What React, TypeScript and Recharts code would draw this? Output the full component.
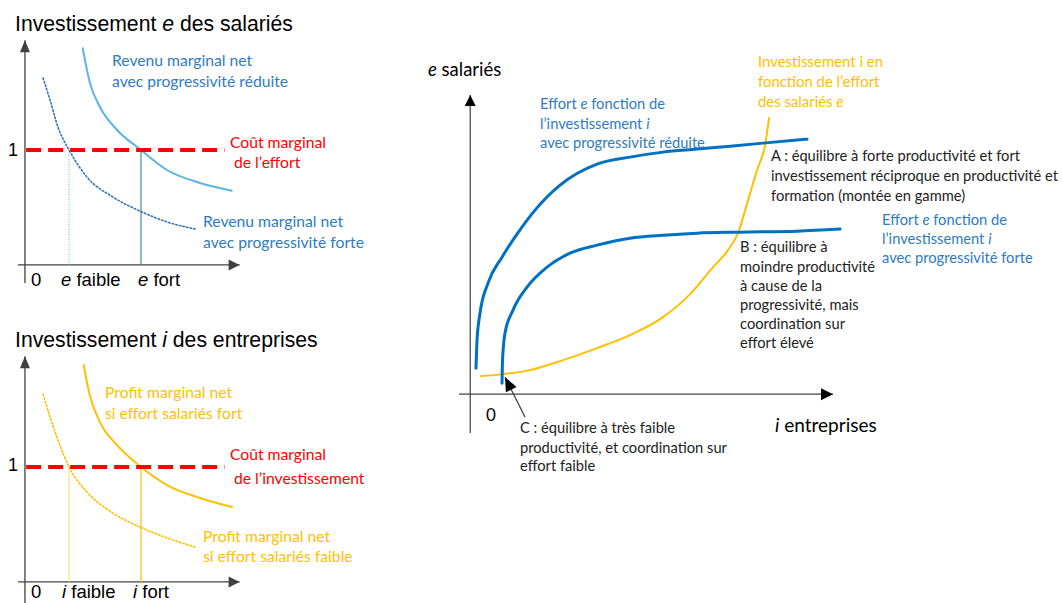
import React from 'react';
import { LineChart, Line, XAxis, YAxis, ReferenceLine, ReferenceDot } from 'recharts';

// ---- panneau haut gauche : effort e des salariés (1 = coût marginal)
const revenuReduite = [
    { x: 2.49, y: 1.884 }, { x: 2.8, y: 1.583 }, { x: 3.23, y: 1.374 }, { x: 3.97, y: 1.174 },
    { x: 5.0, y: 1.0 }, { x: 6.12, y: 0.826 }, { x: 7.54, y: 0.713 }, { x: 8.91, y: 0.646 },
];
const revenuForte = [
    { x: 0.78, y: 1.626 }, { x: 1.08, y: 1.435 }, { x: 1.42, y: 1.2 }, { x: 1.9, y: 1.0 },
    { x: 2.67, y: 0.765 }, { x: 3.79, y: 0.591 }, { x: 5.04, y: 0.461 }, { x: 6.12, y: 0.374 }, { x: 7.33, y: 0.313 },
];
const eFaible = 1.9;
const eFort = 5.0;

// ---- panneau bas gauche : investissement i des entreprises
const profitFort = [
    { x: 2.53, y: 1.887 }, { x: 2.8, y: 1.62 }, { x: 3.23, y: 1.39 }, { x: 3.97, y: 1.19 },
    { x: 5.0, y: 1.0 }, { x: 6.12, y: 0.843 }, { x: 7.54, y: 0.73 }, { x: 8.92, y: 0.652 },
];
const profitFaible = [
    { x: 0.78, y: 1.635 }, { x: 1.08, y: 1.435 }, { x: 1.42, y: 1.235 }, { x: 1.9, y: 1.0 },
    { x: 2.67, y: 0.783 }, { x: 3.79, y: 0.6 }, { x: 5.04, y: 0.47 }, { x: 6.12, y: 0.383 }, { x: 7.33, y: 0.304 },
];
const iFaible = 1.9;
const iFort = 5.0;
const coutMarginal = 1;

// ---- panneau droit : e salariés en fonction de i entreprises
const effortProgReduite = [
    { x: 0.155, y: 0.769 }, { x: 0.182, y: 1.598 }, { x: 0.262, y: 2.396 }, { x: 0.476, y: 3.284 },
    { x: 0.85, y: 4.053 }, { x: 1.251, y: 4.734 }, { x: 1.733, y: 5.444 }, { x: 2.401, y: 6.183 },
    { x: 3.39, y: 6.805 }, { x: 4.273, y: 7.012 }, { x: 5.155, y: 7.16 }, { x: 6.064, y: 7.249 },
    { x: 6.947, y: 7.337 }, { x: 7.829, y: 7.426 }, { x: 9.005, y: 7.544 },
];
const effortProgForte = [
    { x: 0.85, y: 0.325 }, { x: 0.864, y: 1.006 }, { x: 0.93, y: 1.805 }, { x: 1.144, y: 2.485 },
    { x: 1.519, y: 3.166 }, { x: 2.054, y: 3.757 }, { x: 2.668, y: 4.172 }, { x: 3.39, y: 4.408 },
    { x: 4.273, y: 4.615 }, { x: 5.155, y: 4.704 }, { x: 6.064, y: 4.763 }, { x: 7.214, y: 4.793 },
    { x: 8.738, y: 4.822 }, { x: 9.888, y: 4.882 },
];
const investissementI = [
    { x: 0.289, y: 0.533 }, { x: 0.877, y: 0.592 }, { x: 1.599, y: 0.71 }, { x: 2.481, y: 1.006 },
    { x: 3.39, y: 1.361 }, { x: 4.273, y: 1.746 }, { x: 5.155, y: 2.278 }, { x: 5.877, y: 2.959 },
    { x: 6.492, y: 3.757 }, { x: 6.893, y: 4.26 }, { x: 7.16, y: 4.763 }, { x: 7.428, y: 5.74 },
    { x: 7.668, y: 6.627 }, { x: 7.882, y: 7.367 }, { x: 7.989, y: 8.166 },
];
const flecheC = [{ x: 1.465, y: -0.68 }, { x: 0.93, y: 0.503 }];

const AXIS = '#404040';
const BLUE_TXT = '#2e7bc2';
const ORANGE = '#ffc000';
const RED = '#ff0000';
const CAL = 'Lato, "Open Sans", sans-serif';
const ARIAL = '"Liberation Sans", Arial, sans-serif';

// triangle dont la pointe est en (cx, cy), orienté selon angle (degrés, repère écran)
const arrowHead = (angle: number, len: number, half: number, fill = AXIS) => (props: any) => {
    const { cx, cy } = props;
    const a = (angle * Math.PI) / 180;
    const bx = cx - len * Math.cos(a);
    const by = cy - len * Math.sin(a);
    const px = -Math.sin(a) * half;
    const py = Math.cos(a) * half;
    return <polygon points={`${cx},${cy} ${bx + px},${by + py} ${bx - px},${by - py}`} fill={fill} />;
};

const line = (data: any[], stroke: string, width: number, dash?: string) => (
    <Line
        data={data}
        dataKey="y"
        type="monotone"
        stroke={stroke}
        strokeWidth={width}
        strokeDasharray={dash}
        strokeLinecap="round"
        dot={false}
        activeDot={false}
        isAnimationActive={false}
    />
);

function LeftPanel({ top, yDomain, solid, dotted, solidColor, dottedColor, lowX, highX, lowColor, highColor, lowDash }: any) {
    const [y0, y1] = yDomain;
    return (
        <div style={{ position: 'absolute', left: 18, top }}>
            <LineChart width={223} height={Math.round((y1 - y0) * 115)} margin={{ top: 0, right: 0, bottom: 0, left: 0 }}>
                <XAxis type="number" dataKey="x" domain={[-0.3, 9.31]} hide allowDataOverflow />
                <YAxis type="number" domain={yDomain} hide allowDataOverflow />
                <ReferenceLine segment={[{ x: 0, y: y0 }, { x: 0, y: y1 - 0.02 }]} stroke={AXIS} strokeWidth={1.3} ifOverflow="visible" />
                <ReferenceLine segment={[{ x: -0.3, y: 0 }, { x: 9.25, y: 0 }]} stroke={AXIS} strokeWidth={1.3} ifOverflow="visible" />
                <ReferenceDot x={0} y={y1 - 0.02} ifOverflow="visible" shape={arrowHead(-90, 12, 5)} />
                <ReferenceDot x={9.25} y={0} ifOverflow="visible" shape={arrowHead(0, 11, 5.5)} />
                <ReferenceLine segment={[{ x: lowX, y: 0 }, { x: lowX, y: coutMarginal }]} stroke={lowColor} strokeWidth={1} strokeDasharray={lowDash} ifOverflow="visible" />
                <ReferenceLine segment={[{ x: highX, y: 0 }, { x: highX, y: coutMarginal }]} stroke={highColor} strokeWidth={1.2} ifOverflow="visible" />
                {line(dotted, dottedColor, 1.6, '1.5 2.2')}
                {line(solid, solidColor, 2)}
                <ReferenceLine segment={[{ x: 0.05, y: coutMarginal }, { x: 8.6, y: coutMarginal }]} stroke={RED} strokeWidth={4} strokeDasharray="15 7" ifOverflow="visible" />
            </LineChart>
        </div>
    );
}

function RightPanel() {
    return (
        <div style={{ position: 'absolute', left: 459, top: 95 }}>
            <LineChart width={386} height={338} margin={{ top: 0, right: 0, bottom: 0, left: 0 }}>
                <XAxis type="number" dataKey="x" domain={[-0.3, 10.02]} hide allowDataOverflow />
                <YAxis type="number" domain={[-1.15, 8.85]} hide allowDataOverflow />
                <ReferenceLine segment={[{ x: 0, y: -1.15 }, { x: 0, y: 8.85 }]} stroke={AXIS} strokeWidth={1.2} ifOverflow="visible" />
                <ReferenceLine segment={[{ x: -0.3, y: 0 }, { x: 9.7, y: 0 }]} stroke={AXIS} strokeWidth={1.2} ifOverflow="visible" />
                <ReferenceDot x={0} y={8.85} ifOverflow="visible" shape={arrowHead(-90, 11, 5.5, '#000')} />
                <ReferenceDot x={9.7} y={0} ifOverflow="visible" shape={arrowHead(0, 12, 6, '#000')} />
                {line(investissementI, ORANGE, 2)}
                {line(effortProgForte, '#0070c0', 3)}
                {line(effortProgReduite, '#0070c0', 3)}
                <ReferenceLine segment={flecheC} stroke="#404040" strokeWidth={1.2} ifOverflow="visible" />
                <ReferenceDot x={flecheC[1].x} y={flecheC[1].y} ifOverflow="visible" shape={arrowHead(-116.6, 14, 6, '#000')} />
            </LineChart>
        </div>
    );
}

function Lines({ x, ys, lines, color, size = 15.7, font = CAL }: { x: number; ys: number[]; lines: React.ReactNode[]; color: string; size?: number; font?: string }) {
    return (
        <>
            {lines.map((l, k) => (
                <text key={k} x={x} y={ys[k]} fill={color} fontSize={size} fontFamily={font} style={{ whiteSpace: 'pre' }}>
                    {l}
                </text>
            ))}
        </>
    );
}

const it = (s: string) => <tspan fontStyle="italic">{s}</tspan>;

export default function App() {
    return (
        <div style={{ position: 'absolute', left: 0, top: 0, width: 1062, height: 603, background: '#fff', overflow: 'hidden' }}>
            <LeftPanel
                top={38}
                yDomain={[-0.157, 1.974]}
                solid={revenuReduite}
                dotted={revenuForte}
                solidColor="#5ab4e6"
                dottedColor="#2e75b6"
                lowX={eFaible}
                highX={eFort}
                lowColor="#5ab4e6"
                highColor="#4a88ad"
                lowDash="1 1.5"
            />
            <LeftPanel
                top={354}
                yDomain={[-0.183, 1.983]}
                solid={profitFort}
                dotted={profitFaible}
                solidColor={ORANGE}
                dottedColor={ORANGE}
                lowX={iFaible}
                highX={iFort}
                lowColor="#ffd966"
                highColor={ORANGE}
            />
            <RightPanel />
            <svg width={1062} height={603} style={{ position: 'absolute', left: 0, top: 0, pointerEvents: 'none' }}>
                {/* haut gauche */}
                <Lines x={15} ys={[31]} lines={[<>Investissement {it('e')} des salariés</>]} color="#000" size={21.2} font={ARIAL} />
                <Lines x={8} ys={[156]} lines={['1']} color="#000" size={18} font={ARIAL} />
                <Lines x={31} ys={[286]} lines={['0']} color="#000" size={18.5} font={ARIAL} />
                <Lines x={61} ys={[286]} lines={[<>{it('e')} faible</>]} color="#000" size={18.5} font={ARIAL} />
                <Lines x={138} ys={[286]} lines={[<>{it('e')} fort</>]} color="#000" size={18.5} font={ARIAL} />
                <Lines x={112} ys={[66, 87]} lines={['Revenu marginal net', 'avec progressivité réduite']} color={BLUE_TXT} />
                <Lines x={230} ys={[148, 168]} lines={['Coût marginal', ' de l’effort']} color={RED} />
                <Lines x={203} ys={[227, 248]} lines={['Revenu marginal net', 'avec progressivité forte']} color={BLUE_TXT} />

                {/* bas gauche */}
                <Lines x={15} ys={[347]} lines={[<>Investissement {it('i')} des entreprises</>]} color="#000" size={21.2} font={ARIAL} />
                <Lines x={8} ys={[471]} lines={['1']} color="#000" size={18} font={ARIAL} />
                <Lines x={31} ys={[598]} lines={['0']} color="#000" size={18.5} font={ARIAL} />
                <Lines x={62} ys={[598]} lines={[<>{it('i')} faible</>]} color="#000" size={18.5} font={ARIAL} />
                <Lines x={133} ys={[598]} lines={[<>{it('i')} fort</>]} color="#000" size={18.5} font={ARIAL} />
                <Lines x={105} ys={[398, 419]} lines={['Profit marginal net', 'si effort salariés fort']} color={ORANGE} />
                <Lines x={230} ys={[460, 484]} lines={['Coût marginal', ' de l’investissement']} color={RED} />
                <Lines x={203} ys={[542, 562]} lines={['Profit marginal net', 'si effort salariés faible']} color={ORANGE} />

                {/* droite */}
                <Lines x={428} ys={[76]} lines={[<>{it('e')} salariés</>]} color="#000" size={18.5} />
                <Lines x={486} ys={[421]} lines={['0']} color="#000" size={17} />
                <Lines x={775} ys={[432]} lines={[<>{it('i')} entreprises</>]} color="#000" size={19} />
                <Lines
                    x={540}
                    ys={[109, 128.5, 148]}
                    lines={[<>Effort {it('e')} fonction de</>, <>l’investissement {it('i')}</>, 'avec progressivité réduite']}
                    color={BLUE_TXT}
                    size={14.7}
                />
                <Lines
                    x={758}
                    ys={[67, 87, 107]}
                    lines={['Investissement i en', 'fonction de l’effort', <>des salariés {it('e')}</>]}
                    color={ORANGE}
                    size={14.9}
                />
                <Lines
                    x={771}
                    ys={[161, 181, 201]}
                    lines={['A : équilibre à forte productivité et fort', 'investissement réciproque en productivité et', 'formation (montée en gamme)']}
                    color="#222"
                    size={14.7}
                />
                <Lines
                    x={882}
                    ys={[225, 244, 263]}
                    lines={[<>Effort {it('e')} fonction de</>, <>l’investissement {it('i')}</>, 'avec progressivité forte']}
                    color={BLUE_TXT}
                    size={14.7}
                />
                <Lines
                    x={740}
                    ys={[252, 272, 291, 310, 329, 348]}
                    lines={['B : équilibre à', 'moindre productivité', 'à cause de la', 'progressivité, mais', 'coordination sur', 'effort élevé']}
                    color="#222"
                    size={14.7}
                />
                <Lines
                    x={520}
                    ys={[433, 453, 471]}
                    lines={['C : équilibre à très faible', 'productivité, et coordination sur', 'effort faible']}
                    color="#222"
                    size={14.7}
                />
            </svg>
        </div>
    );
}
